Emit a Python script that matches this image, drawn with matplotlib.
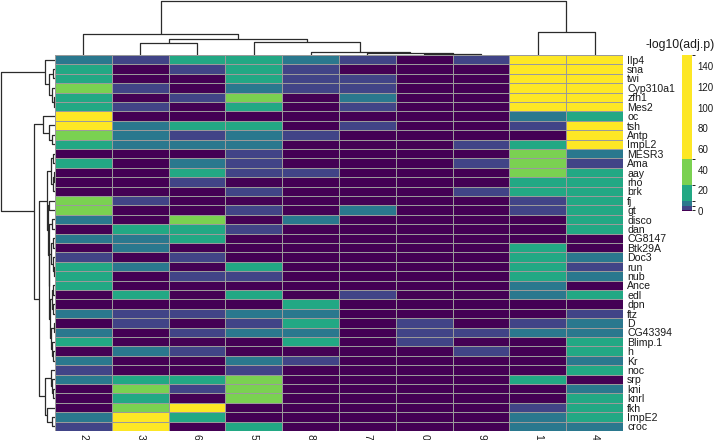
import matplotlib
matplotlib.use("Agg")
import matplotlib.pyplot as plt
import numpy as np
from matplotlib.colors import ListedColormap, BoundaryNorm
from matplotlib.cm import ScalarMappable

plt.rcParams['font.family'] = ['Liberation Sans', 'DejaVu Sans']

# ---------------- data ----------------
col_labels = ["2", "3", "6", "5", "8", "7", "0", "9", "1", "4"]
row_labels = ["Ilp4", "sna", "twi", "Cyp310a1", "zfh1", "Mes2", "oc", "tsh", "Antp", "ImpL2",
              "MESR3", "Ama", "aay", "rho", "brk", "fj", "gt", "disco", "dan", "CG8147",
              "Btk29A", "Doc3", "run", "nub", "Ance", "edl", "dpn", "ftz", "D", "CG43394",
              "Blimp.1", "h", "Kr", "noc", "srp", "kni", "knrl", "fkh", "ImpE2", "croc"]

# -log10(adj.p) per gene (rows) and cluster (columns, in the order of col_labels)
values = [
    [7, 3, 17, 17, 7, 3, 0.5, 3, 145, 140],          # Ilp4
    [17, 0.5, 3, 17, 3, 0.5, 0.5, 0.5, 140, 135],    # sna
    [17, 0.5, 0.5, 17, 3, 3, 0.5, 0.5, 135, 130],    # twi
    [38, 3, 0.5, 7, 3, 3, 0.5, 0.5, 130, 125],       # Cyp310a1
    [17, 0.5, 3, 38, 0.5, 7, 0.5, 0.5, 120, 120],    # zfh1
    [17, 3, 0.5, 17, 0.5, 3, 0.5, 0.5, 110, 115],    # Mes2
    [100, 0.5, 0.5, 0.5, 0.5, 0.5, 0.5, 0.5, 7, 17], # oc
    [90, 7, 17, 17, 0.5, 3, 0.5, 0.5, 3, 100],       # tsh
    [38, 7, 3, 7, 3, 0.5, 0.5, 0.5, 0.5, 95],        # Antp
    [17, 7, 7, 7, 0.5, 0.5, 0.5, 3, 17, 80],         # ImpL2
    [0.5, 0.5, 0.5, 3, 0.5, 0.5, 0.5, 0.5, 40, 7],   # MESR3
    [17, 0.5, 7, 3, 0.5, 0.5, 0.5, 3, 40, 3],        # Ama
    [0.5, 0.5, 17, 3, 3, 0.5, 0.5, 0.5, 40, 17],     # aay
    [0.5, 0.5, 3, 0.5, 0.5, 0.5, 0.5, 0.5, 17, 17],  # rho
    [0.5, 0.5, 0.5, 3, 0.5, 0.5, 0.5, 3, 17, 17],    # brk
    [38, 3, 0.5, 0.5, 0.5, 0.5, 0.5, 0.5, 3, 17],    # fj
    [38, 0.5, 0.5, 3, 0.5, 7, 0.5, 0.5, 3, 17],      # gt
    [7, 0.5, 38, 0.5, 7, 0.5, 0.5, 0.5, 0.5, 17],    # disco
    [0.5, 17, 17, 3, 0.5, 0.5, 0.5, 0.5, 0.5, 17],   # dan
    [7, 7, 17, 0.5, 0.5, 0.5, 0.5, 0.5, 0.5, 0.5],   # CG8147
    [0.5, 7, 0.5, 0.5, 0.5, 0.5, 0.5, 0.5, 17, 0.5], # Btk29A
    [3, 0.5, 3, 0.5, 0.5, 0.5, 0.5, 0.5, 17, 7],     # Doc3
    [17, 7, 0.5, 17, 0.5, 0.5, 0.5, 0.5, 17, 3],     # run
    [17, 0.5, 3, 3, 0.5, 0.5, 0.5, 0.5, 17, 7],      # nub
    [17, 0.5, 0.5, 0.5, 0.5, 0.5, 0.5, 0.5, 7, 0.5], # Ance
    [0.5, 17, 0.5, 17, 0.5, 3, 0.5, 0.5, 7, 17],     # edl
    [0.5, 0.5, 0.5, 0.5, 17, 0.5, 0.5, 0.5, 0.5, 0.5], # dpn
    [7, 3, 3, 7, 7, 0.5, 0.5, 0.5, 0.5, 3],          # ftz
    [0.5, 3, 0.5, 3, 17, 0.5, 3, 0.5, 3, 7],         # D
    [7, 0.5, 3, 7, 7, 0.5, 3, 3, 7, 7],              # CG43394
    [17, 0.5, 0.5, 0.5, 17, 0.5, 3, 0.5, 0.5, 17],   # Blimp.1
    [0.5, 7, 3, 0.5, 0.5, 0.5, 0.5, 3, 0.5, 17],     # h
    [7, 0.5, 0.5, 7, 3, 0.5, 0.5, 0.5, 0.5, 7],      # Kr
    [3, 0.5, 0.5, 3, 0.5, 0.5, 0.5, 0.5, 0.5, 17],   # noc
    [7, 17, 17, 38, 0.5, 0.5, 0.5, 0.5, 17, 0.5],    # srp
    [0.5, 38, 3, 38, 0.5, 0.5, 0.5, 0.5, 0.5, 7],    # kni
    [0.5, 17, 0.5, 38, 0.5, 0.5, 0.5, 0.5, 0.5, 17], # knrl
    [0.5, 38, 80, 0.5, 0.5, 0.5, 0.5, 0.5, 3, 17],   # fkh
    [7, 90, 17, 0.5, 0.5, 0.5, 0.5, 0.5, 7, 17],     # ImpE2
    [3, 100, 0.5, 17, 0.5, 0.5, 0.5, 0.5, 7, 7],     # croc
]

breaks = [0, 1.3, 5, 10, 25, 50, 151]
colors = ["#440154", "#414487", "#2A788E", "#22A884", "#7AD151", "#FDE725"]
cbar_ticks = [0, 20, 40, 60, 80, 100, 120, 140]
legend_title = "-log10(adj.p)"

# hierarchical clustering trees: (left, right, merge height)
col_tree = (("2", (("3", "6", 11.7),
                   ("5", ("8", ("7", ("0", "9", 1.5), 2.5), 3.3), 12.7), 15.7), 21.7),
            ("1", "4", 23.3), 55.0)

row_T = ("Ilp4", (("sna", "twi", 1.7), ("Cyp310a1", ("zfh1", "Mes2", 1.5), 3.0), 5.7), 10.0)
row_A = ("oc", ("tsh", ("Antp", "ImpL2", 2.7), 5.7), 12.3)
row_Mtop = (("MESR3", "Ama", 2.5), (("aay", "rho", 1.5), "brk", 2.5), 4.5)
row_Z = ((("CG8147", "Btk29A", 2.0), ("Doc3", ("run", "nub", 1.5), 2.5), 4.0),
         ((("Ance", "edl", 2.0), ("dpn", "ftz", 2.2), 3.5),
          (("D", "CG43394", 1.5), ("Blimp.1", ("h", "Kr", 2.0), 2.8), 3.8), 5.0), 6.0)
row_Mrest = (("fj", "gt", 5.7), (("disco", "dan", 3.0), row_Z, 6.5), 7.2)
row_M = (row_Mtop, row_Mrest, 8.5)
row_B = (("noc", ("srp", ("kni", "knrl", 2.0), 3.0), 4.3), ("fkh", ("ImpE2", "croc", 3.0), 8.3), 10.5)
row_tree = (row_T, (row_A, (row_M, row_B, 15.7), 20.7), 54.3)

# ---------------- helpers ----------------
def leaves(node):
    if isinstance(node, str):
        return [node]
    return leaves(node[0]) + leaves(node[1])

def segments(node, order):
    if isinstance(node, str):
        return order.index(node) + 0.5, 0.0, []
    l, r, h = node
    pl, hl, sl = segments(l, order)
    pr, hr, sr = segments(r, order)
    seg = sl + sr + [([pl, pl, pr, pr], [hl, h, h, hr])]
    return (pl + pr) / 2, h, seg

col_order = leaves(col_tree)
row_order = leaves(row_tree)
data = np.array(values, dtype=float)
data = data[[row_labels.index(r) for r in row_order]][:, [col_labels.index(c) for c in col_order]]

# ---------------- figure ----------------
W, H = 714, 440
fig = plt.figure(figsize=(W / 100, H / 100), dpi=100)

def ax_px(l, t, r, b):
    return fig.add_axes([l / W, 1 - b / H, (r - l) / W, (b - t) / H])

hx0, hx1, hy0, hy1 = 55, 623, 55, 431
txtc = "#1a1a1a"
fs = 7.6

ax = ax_px(hx0, hy0, hx1, hy1)
cmap = ListedColormap(colors)
norm = BoundaryNorm(breaks, cmap.N)
ax.pcolormesh(data, cmap=cmap, norm=norm, edgecolors="#9a9a9a", linewidth=0.7)
ax.set_xlim(0, data.shape[1])
ax.set_ylim(data.shape[0], 0)
ax.set_yticks(np.arange(data.shape[0]) + 0.5)
ax.set_yticklabels(row_order, color=txtc)
ax.yaxis.tick_right()
ax.tick_params(axis="y", length=0, pad=3, labelsize=fs)
ax.set_xticks(np.arange(data.shape[1]) + 0.5)
ax.set_xticklabels(col_order, rotation=270, color=txtc)
ax.tick_params(axis="x", length=0, pad=2, labelsize=fs)
for s in ax.spines.values():
    s.set_visible(False)

lc = "#2b2b2b"
# column dendrogram
axc = ax_px(hx0, 0, hx1, hy0)
_, _, segs = segments(col_tree, col_order)
for xs, ys in segs:
    axc.plot(xs, ys, color=lc, lw=0.9, solid_capstyle="butt")
axc.set_xlim(0, len(col_order))
axc.set_ylim(0, 55.6)
axc.axis("off")

# row dendrogram
axr = ax_px(0, hy0, hx0, hy1)
_, _, segs = segments(row_tree, row_order)
for ys, xs in segs:
    axr.plot(xs, ys, color=lc, lw=0.9, solid_capstyle="butt")
axr.set_xlim(55, 0)
axr.set_ylim(len(row_order), 0)
axr.axis("off")

# colour legend
cax = ax_px(682, 55, 692, 211)
cb = fig.colorbar(ScalarMappable(norm=norm, cmap=cmap), cax=cax,
                  spacing="proportional", ticks=cbar_ticks)
cb.outline.set_visible(False)
cax.tick_params(length=0, pad=4, labelsize=7.0, labelcolor=txtc)
fig.text(645 / W, 1 - 45 / H, legend_title, fontsize=8.8, color=txtc,
         ha="left", va="center")

fig.savefig("out.png", dpi=100)
